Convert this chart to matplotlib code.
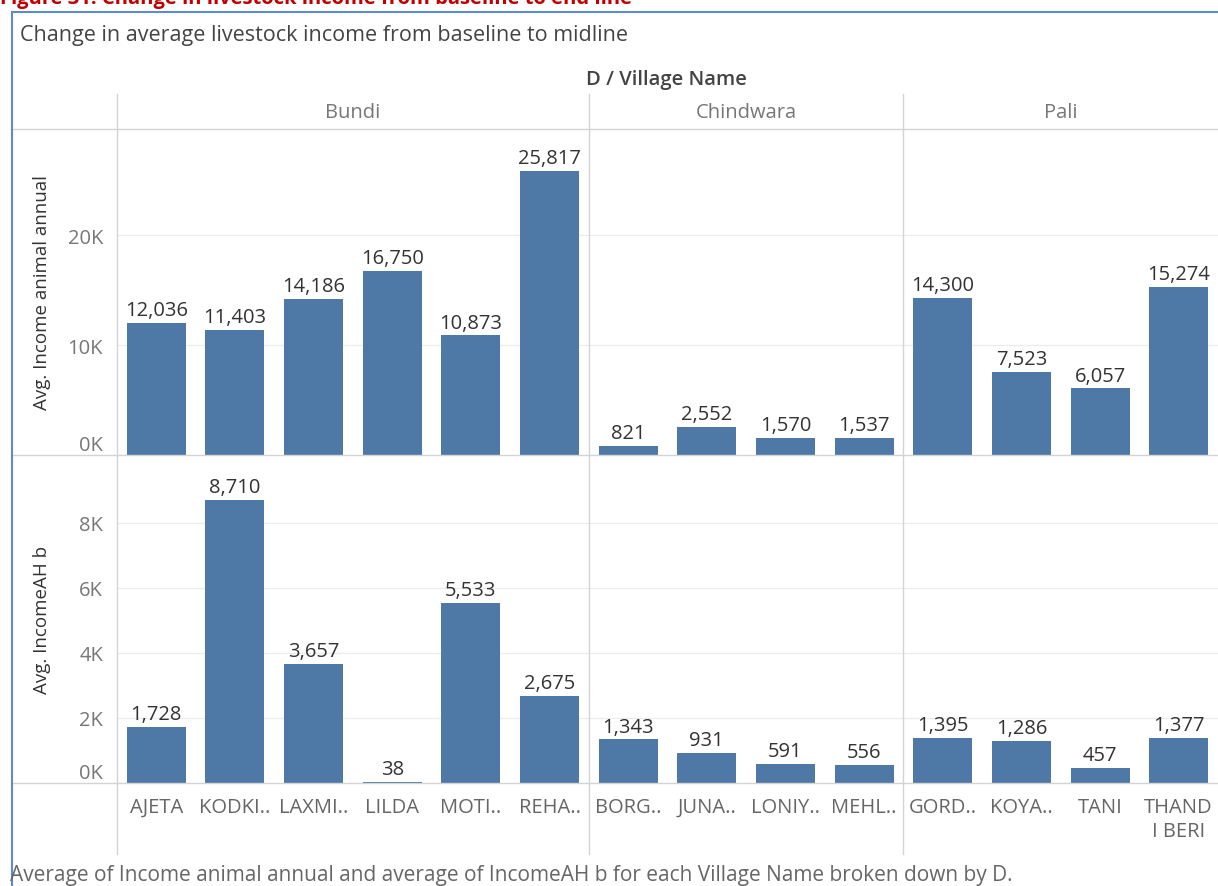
import matplotlib.pyplot as plt
from matplotlib.lines import Line2D
from matplotlib.transforms import blended_transform_factory

# data
districts = ["Bundi", "Chindwara", "Pali"]
villages_per_district = [6, 4, 4]
villages = ["AJETA", "KODKI..", "LAXMI..", "LILDA", "MOTI..", "REHA..",
            "BORG..", "JUNA..", "LONIY..", "MEHL..",
            "GORD..", "KOYA..", "TANI", "THAND\nI BERI"]
income_animal = [12036, 11403, 14186, 16750, 10873, 25817,
                 821, 2552, 1570, 1537,
                 14300, 7523, 6057, 15274]
income_ah = [1728, 8710, 3657, 38, 5533, 2675,
             1343, 931, 591, 556,
             1395, 1286, 457, 1377]
top_ticks = [0, 10000, 20000]
bottom_ticks = [0, 2000, 4000, 6000, 8000]

BAR = "#4e79a7"
GRID = "#ececec"
SEP = "#d4d4d4"
W, H = 1218, 887

plt.rcParams["font.family"] = ["Open Sans", "DejaVu Sans"]

fig = plt.figure(figsize=(W / 100, H / 100), dpi=100)


def fx(px):
    return px / W


def fy(py):
    return 1 - py / H


left, right = 117, 1218
ax_top = fig.add_axes([fx(left), fy(456), fx(right - left), (456 - 130) / H])
ax_bot = fig.add_axes([fx(left), fy(784), fx(right - left), (784 - 456) / H])

x = list(range(len(villages)))
bounds = [-0.5]
for n in villages_per_district:
    bounds.append(bounds[-1] + n)

for ax, vals, ticks, top, label in [
    (ax_top, income_animal, top_ticks, 29640, "Avg. Income animal annual"),
    (ax_bot, income_ah, bottom_ticks, 10090, "Avg. IncomeAH b"),
]:
    ax.bar(x, vals, width=0.75, color=BAR, zorder=3)
    for xi, v in zip(x, vals):
        ax.annotate(f"{v:,}", (xi, v), xytext=(0, 2), textcoords="offset points",
                    ha="center", va="bottom", fontsize=14.5, color="#333333")
    ax.set_xlim(-0.5, len(villages) - 0.5)
    ax.set_ylim(0, top)
    ax.set_yticks(ticks)
    ax.set_yticklabels([f"{t // 1000}K" for t in ticks])
    for t in ticks[1:]:
        ax.axhline(t, color=GRID, lw=0.9, zorder=1)
    for b in bounds[1:-1]:
        ax.axvline(b, color=SEP, lw=1, zorder=2)
    for s in ax.spines.values():
        s.set_visible(False)
    ax.tick_params(axis="both", length=0, labelsize=14.5, labelcolor="#777777", pad=10)
    ax.set_ylabel(label, fontsize=13.5, color="#333333")
    ax.set_xticks([])

# 0K labels sit just inside the panel
for ax in (ax_top, ax_bot):
    for lbl in ax.get_yticklabels():
        if lbl.get_text() == "0K":
            lbl.set_verticalalignment("bottom")

ax_bot.set_xticks(x)
ax_bot.set_xticklabels(villages, fontsize=14.5, color="#666666", linespacing=1.25)
ax_bot.tick_params(axis="x", pad=10, labelcolor="#666666")
ax_top.yaxis.set_label_coords((51 - left) / (right - left), 0.5)
ax_bot.yaxis.set_label_coords((51 - left) / (right - left), 0.5)

# separators through header and label rows
tr = blended_transform_factory(ax_top.transData, fig.transFigure)
for b in bounds[:-1]:
    for y0, y1 in [(95, 130), (784, 855)]:
        fig.add_artist(Line2D([b, b], [fy(y0), fy(y1)], transform=tr, color=SEP, lw=1))
    if b == bounds[0]:
        for y0, y1 in [(130, 456), (456, 784)]:
            fig.add_artist(Line2D([b, b], [fy(y0), fy(y1)], transform=tr, color=SEP, lw=1))

for py in (130, 456, 784):
    fig.add_artist(Line2D([fx(12), 1], [fy(py), fy(py)], color=SEP, lw=1))

# district headers
for name, lo, hi in zip(districts, bounds[:-1], bounds[1:]):
    fig.text((lo + hi) / 2, fy(113), name, transform=tr, ha="center", va="center",
             fontsize=14.5, color="#777777")

fig.text(fx(666), fy(80), "D / Village Name", ha="center", va="center",
         fontsize=14.5, color="#444444", fontweight="semibold")
fig.text(fx(20), fy(36), "Change in average livestock income from baseline to midline",
         ha="left", va="center", fontsize=15.5, color="#444444")
fig.text(fx(10), fy(876), "Average of Income animal annual and average of IncomeAH b "
         "for each Village Name broken down by D.",
         ha="left", va="center", fontsize=15, color="#666666")

# clipped document caption and frame
fig.text(fx(0), fy(-1), "Figure 31: Change in livestock income from baseline to end line",
         ha="left", va="center", fontsize=14.5, color="#c00000", fontweight="bold")
fig.add_artist(Line2D([fx(12), fx(12)], [0, fy(13)], color="#5b8bd0", lw=1.5))
fig.add_artist(Line2D([fx(12), 1], [fy(13), fy(13)], color="#5b8bd0", lw=1.5))

fig.savefig("out.png", dpi=100)
